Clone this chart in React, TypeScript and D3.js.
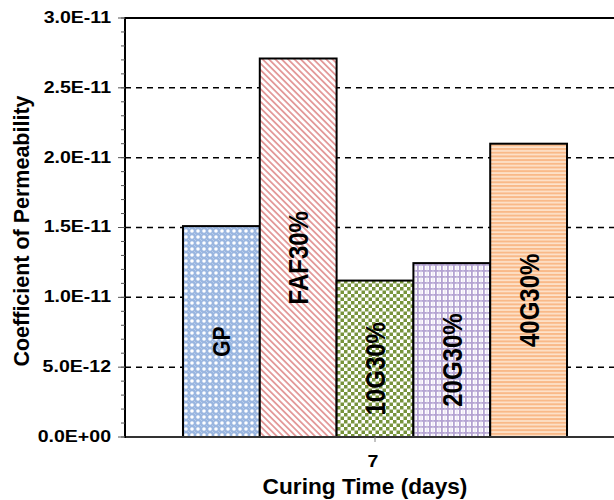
import React, { useEffect, useRef } from 'react';
import * as d3 from 'd3';

// chart values
const categories = ['7'];
const seriesNames = ['GP', 'FAF30%', '10G30%', '20G30%', '40G30%'];
const seriesValues = [1.51e-11, 2.71e-11, 1.12e-11, 1.245e-11, 2.1e-11];
const yTickValues = [0, 5e-12, 1e-11, 1.5e-11, 2e-11, 2.5e-11, 3e-11];
const yTickLabels = ['0.0E+00', '5.0E-12', '1.0E-11', '1.5E-11', '2.0E-11', '2.5E-11', '3.0E-11'];
const yMinorStep = 1e-12;
const xTitle = 'Curing Time (days)';
const yTitle = 'Coefficient of Permeability';

const WIDTH = 614;
const HEIGHT = 500;
const FONT = '"Liberation Sans", Arial, sans-serif';
const STRETCH = 1.15; // tick labels are a bit wider than Arial

function App() {
  const ref = useRef<SVGSVGElement>(null);

  useEffect(() => {
    const svg = d3.select(ref.current);
    svg.selectAll('*').remove();

    const left = 125, right = 625, top = 18, bottom = 437;

    const y = d3.scaleLinear().domain([0, 3e-11]).range([bottom, top]);
    const x0 = d3.scaleBand().domain(categories).range([left, right]).paddingOuter(0.151).paddingInner(0);
    const x1 = d3.scaleBand().domain(seriesNames).range([0, x0.bandwidth()]).padding(0);

    // fill patterns
    const defs = svg.append('defs');

    let p = defs.append('pattern').attr('id', 'pGP').attr('patternUnits', 'userSpaceOnUse')
      .attr('width', 6).attr('height', 6);
    p.append('rect').attr('width', 6).attr('height', 6).attr('fill', '#9ab6e0');
    p.append('circle').attr('cx', 3).attr('cy', 3).attr('r', 1.8).attr('fill', '#ffffff');
    p.append('circle').attr('cx', 0).attr('cy', 0).attr('r', 0.8).attr('fill', '#e2ebf7');
    p.append('circle').attr('cx', 6).attr('cy', 6).attr('r', 0.8).attr('fill', '#e2ebf7');

    p = defs.append('pattern').attr('id', 'pFAF').attr('patternUnits', 'userSpaceOnUse')
      .attr('width', 4.5).attr('height', 4.5).attr('patternTransform', 'rotate(-45)');
    p.append('rect').attr('width', 4.5).attr('height', 4.5).attr('fill', '#ffffff');
    p.append('rect').attr('width', 1.8).attr('height', 4.5).attr('fill', '#e39a9a');

    p = defs.append('pattern').attr('id', 'p10G').attr('patternUnits', 'userSpaceOnUse')
      .attr('width', 7).attr('height', 7);
    p.append('rect').attr('width', 7).attr('height', 7).attr('fill', '#ffffff');
    p.append('rect').attr('width', 3.5).attr('height', 3.5).attr('fill', '#77933c');
    p.append('rect').attr('x', 3.5).attr('y', 3.5).attr('width', 3.5).attr('height', 3.5).attr('fill', '#77933c');

    p = defs.append('pattern').attr('id', 'p20G').attr('patternUnits', 'userSpaceOnUse')
      .attr('width', 6).attr('height', 6);
    p.append('rect').attr('width', 6).attr('height', 6).attr('fill', '#ffffff');
    p.append('rect').attr('width', 6).attr('height', 1.8).attr('fill', '#b4a3d2');
    p.append('rect').attr('width', 1.8).attr('height', 6).attr('fill', '#b4a3d2');
    p.append('rect').attr('x', 3.6).attr('width', 0.8).attr('height', 6).attr('fill', '#ddd3ec');

    p = defs.append('pattern').attr('id', 'p40G').attr('patternUnits', 'userSpaceOnUse')
      .attr('width', 6).attr('height', 3.7);
    p.append('rect').attr('width', 6).attr('height', 3.7).attr('fill', '#fde3cc');
    p.append('rect').attr('width', 6).attr('height', 2).attr('fill', '#f9b988');

    const fills = ['url(#pGP)', 'url(#pFAF)', 'url(#p10G)', 'url(#p20G)', 'url(#p40G)'];

    // dashed gridlines
    svg.append('g').selectAll('line')
      .data(yTickValues.filter(v => v > 0 && v < 3e-11))
      .enter().append('line')
      .attr('x1', left).attr('x2', right)
      .attr('y1', d => y(d)).attr('y2', d => y(d))
      .attr('stroke', '#000').attr('stroke-width', 1.5)
      .attr('stroke-dasharray', '6,5');

    // bars
    const rows = seriesNames.map((name, i) => ({ name, value: seriesValues[i], fill: fills[i] }));
    const g = svg.append('g').attr('transform', 'translate(' + x0(categories[0]) + ',0)');
    g.selectAll('rect')
      .data(rows)
      .enter().append('rect')
      .attr('x', d => x1(d.name)!)
      .attr('y', d => y(d.value))
      .attr('width', x1.bandwidth())
      .attr('height', d => y(0) - y(d.value))
      .attr('fill', d => d.fill)
      .attr('stroke', '#000').attr('stroke-width', 2);

    // bar labels, rotated
    g.selectAll('text.lbl')
      .data(rows)
      .enter().append('text')
      .attr('class', 'lbl')
      .attr('transform', d => {
        const cx = x1(d.name)! + x1.bandwidth() / 2;
        const cy = (y(d.value) + y(0)) / 2 + 10;
        return 'translate(' + cx + ',' + cy + ') scale(' + STRETCH + ',1) rotate(-90)';
      })
      .attr('dy', '0.36em')
      .attr('text-anchor', 'middle')
      .style('font-family', FONT).style('font-weight', 'bold')
      .style('font-size', d => (d.name === 'GP' ? '21px' : '24px'))
      .text(d => d.name);

    // frame: top border, left axis, bottom axis
    svg.append('line').attr('x1', left).attr('x2', right).attr('y1', top).attr('y2', top)
      .attr('stroke', '#000').attr('stroke-width', 2);
    svg.append('line').attr('x1', left).attr('x2', right).attr('y1', bottom).attr('y2', bottom)
      .attr('stroke', '#333').attr('stroke-width', 2);
    svg.append('line').attr('x1', left).attr('x2', left).attr('y1', top - 1).attr('y2', bottom + 1)
      .attr('stroke', '#000').attr('stroke-width', 2);

    // minor and major ticks on the y axis
    const minor = d3.range(0, 3e-11 + yMinorStep / 2, yMinorStep);
    svg.append('g').selectAll('line')
      .data(minor)
      .enter().append('line')
      .attr('x1', left - 4).attr('x2', left)
      .attr('y1', d => y(d)).attr('y2', d => y(d))
      .attr('stroke', '#555').attr('stroke-width', 1);
    svg.append('g').selectAll('line')
      .data(yTickValues)
      .enter().append('line')
      .attr('x1', left - 7).attr('x2', left)
      .attr('y1', d => y(d)).attr('y2', d => y(d))
      .attr('stroke', '#555').attr('stroke-width', 1);

    svg.append('g').selectAll('text')
      .data(yTickValues)
      .enter().append('text')
      .attr('transform', d => 'translate(111,' + (y(d) - 1) + ') scale(' + STRETCH + ',1)')
      .attr('dy', '0.35em')
      .attr('text-anchor', 'end')
      .style('font-family', FONT).style('font-weight', 'bold').style('font-size', '17px')
      .text((d, i) => yTickLabels[i]);

    // x tick
    const xc = x0(categories[0])! + x0.bandwidth() / 2;
    svg.append('line').attr('x1', xc).attr('x2', xc).attr('y1', bottom).attr('y2', bottom + 5)
      .attr('stroke', '#888').attr('stroke-width', 1);
    svg.append('text')
      .attr('transform', 'translate(' + (xc - 2) + ',467) scale(' + STRETCH + ',1)')
      .attr('text-anchor', 'middle')
      .style('font-family', FONT).style('font-weight', 'bold').style('font-size', '17px')
      .text(categories[0]);

    // axis titles
    svg.append('text')
      .attr('transform', 'translate(365,494) scale(1.03,1)')
      .attr('text-anchor', 'middle')
      .style('font-family', FONT).style('font-weight', 'bold').style('font-size', '22px')
      .text(xTitle);

    svg.append('text')
      .attr('transform', 'translate(29,231) scale(1.05,1) rotate(-90)')
      .attr('text-anchor', 'middle')
      .style('font-family', FONT).style('font-weight', 'bold').style('font-size', '21.5px')
      .text(yTitle);
  }, []);

  return (
    <div style={{ position: 'absolute', left: 0, top: 0 }}>
      <svg ref={ref} width={WIDTH} height={HEIGHT} style={{ display: 'block', background: '#fff' }} />
    </div>
  );
}

export default App;
